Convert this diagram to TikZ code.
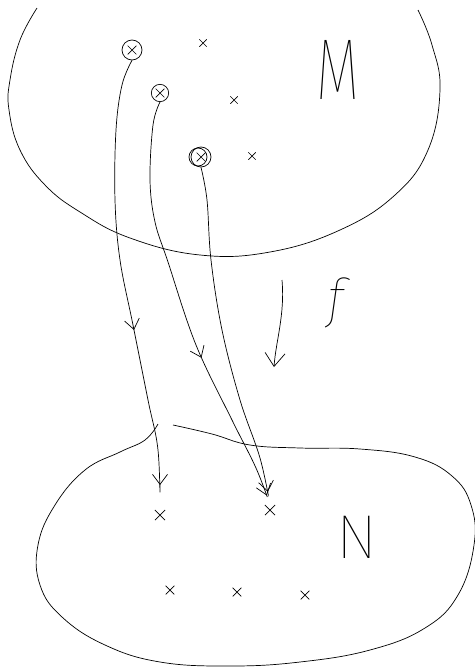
\documentclass[tikz,border=0pt]{standalone}
\usepackage{fontspec}
\newfontfamily\sketchfont{Fira Sans Thin}
\usetikzlibrary{shapes.misc,decorations.markings,arrows.meta,calc}

\begin{document}
\begin{tikzpicture}[
    x=0.03cm, y=-0.03cm,
    line width=0.6pt,
    pt/.style={cross out, draw, minimum size=2.4mm, inner sep=0pt},
    ring/.style={circle, draw, minimum size=6mm, inner sep=0pt},
    barb/.style={-{Straight Barb[length=3mm,width=4.5mm]}},
    midarrow/.style={postaction={decorate}, decoration={markings,
        mark=at position #1 with {\arrow{Straight Barb[length=3mm,width=4.5mm]}}}},
    letter/.style={inner sep=0pt, font=\sketchfont\fontsize{#1}{#1}\selectfont}
  ]
  \useasboundingbox (0,0) rectangle (475,668);

  % Blob M
  \draw plot[smooth, tension=0.7] coordinates {(37,8) (20,40) (10,80) (9,110) (20,150)
    (45,185) (80,212) (130,238) (200,255) (270,252) (340,230) (395,195) (428,150)
    (440,90) (432,45) (418,10)};
  \node[letter=74] (labM) at (338,70) {\scalebox{0.65}[1]{M}};

  % Points of M
  \node[pt] (m1) at (132,50) {};
  \node[ring] (r1) at (m1) {};
  \node[pt] (m2) at (160,93) {};
  \node[ring, minimum size=5.2mm] (r2) at (m2) {};
  \node[pt] (m3) at (201,157) {};
  \node[ring] (r3) at (m3) {};
  \draw ($(m3)+(-3,0)$) circle (9);
  \node[pt, minimum size=2mm] (m4) at (203,43) {};
  \node[pt, minimum size=2mm] (m5) at (234,100) {};
  \node[pt, minimum size=2mm] (m6) at (252,156) {};

  % Blob N
  \draw plot[smooth, tension=0.7] coordinates {(158,424) (145,440) (120,452) (85,470)
    (55,505) (38,545) (40,585) (62,617) (105,645) (160,662) (230,666) (300,662)
    (370,650) (425,628) (458,595) (474,545) (471,505) (452,476) (415,457) (360,449)
    (300,448) (250,445) (212,434) (173,425)};
  \node[letter=53] (labN) at (357,537) {N};

  % Points of N
  \node[pt, minimum size=2.8mm] (n1) at (160,515) {};
  \node[pt, minimum size=2.8mm] (n2) at (270,510) {};
  \node[pt] (n3) at (170,590) {};
  \node[pt] (n4) at (237,592) {};
  \node[pt] (n5) at (305,595) {};

  % The map f
  \coordinate (fa) at (282,280);
  \coordinate (fb) at (274,367);
  \draw[-{Straight Barb[length=4mm,width=6mm]}] (fa) .. controls (285,315) and (276,340) .. (fb);
  \node[letter=46] (labf) at (336,303) {\itshape f};

  % Images of the points
  \draw[barb, midarrow=0.6, shorten >=7.5mm] plot[smooth, tension=0.6] coordinates {(r1.south)
    (122,85) (116,130) (115,200) (120,260) (133,325) (148,400) (158,450) (n1.north)};
  \draw[barb, midarrow=0.62, shorten >=3mm] plot[smooth, tension=0.6] coordinates {(r2.south)
    (153,125) (150,180) (155,222) (168,262) (196,345) (232,420) (256,468) (n2.north)};
  \draw[barb, shorten >=4mm] plot[smooth, tension=0.6] coordinates {(r3.south)
    (207,200) (211,260) (222,330) (240,400) (260,458) (n2.north)};
\end{tikzpicture}
\end{document}
